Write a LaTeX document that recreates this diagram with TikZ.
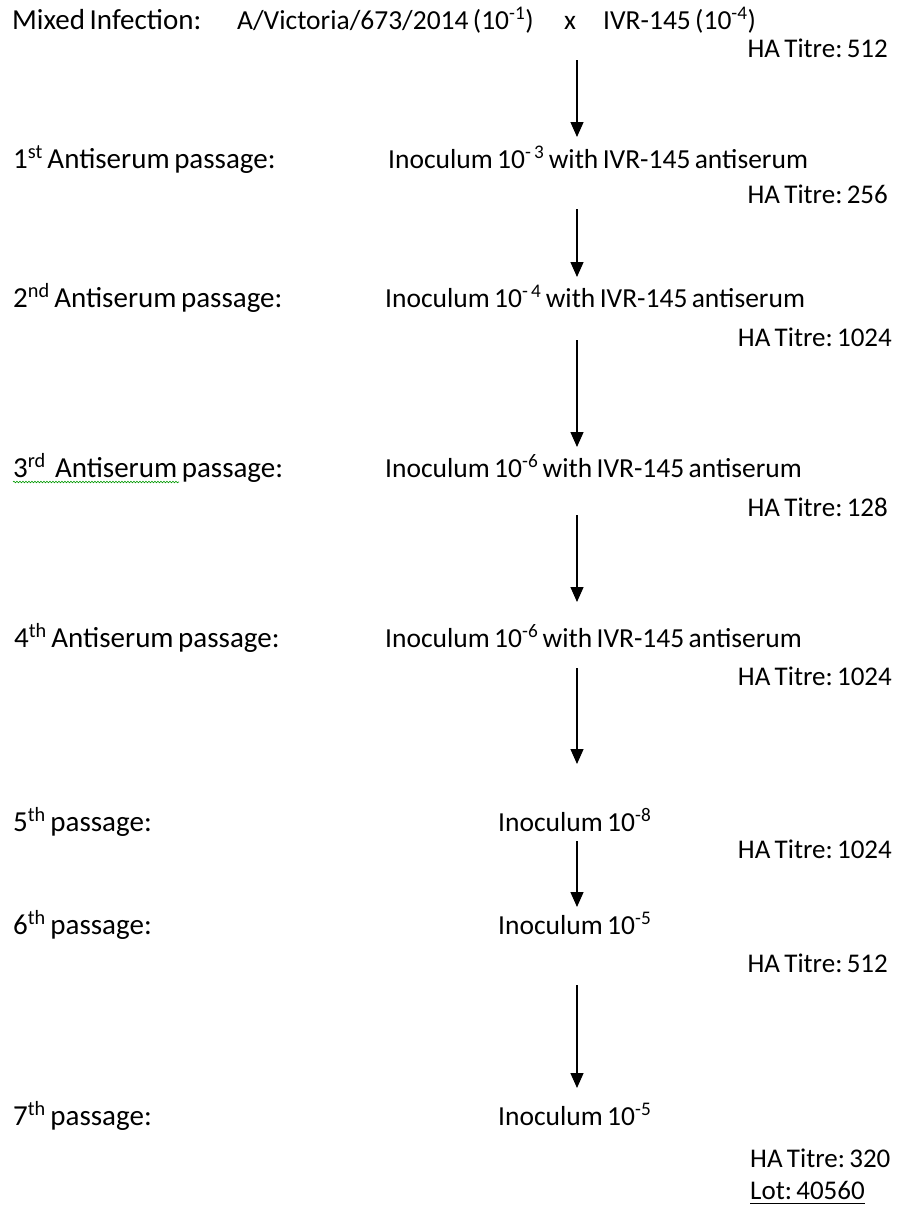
\documentclass[tikz,border=0pt]{standalone}
\usepackage{fontspec}
\setmainfont{Carlito}[WordSpace=0.7]
\usetikzlibrary{arrows.meta, decorations.pathmorphing}
\tikzset{
    every node/.style={inner sep=0pt},
    stage/.style={anchor=base west, font=\fontsize{29}{34}\selectfont},
    inoc/.style={anchor=base west, font=\fontsize{27.5}{32}\selectfont},
    titre/.style={anchor=base east, font=\fontsize{27}{32}\selectfont},
    flow/.style={-{Triangle[length=15pt,width=13pt]}, line width=1.3pt},
    spell/.style={green!60!black, line width=0.6pt, decorate,
        decoration={snake, segment length=3pt, amplitude=0.8pt}}
}
\newcommand{\sups}[1]{\textsuperscript{#1}}
\frenchspacing

\begin{document}
\begin{tikzpicture}[x=1pt, y=-1pt]
    \useasboundingbox (0,0) rectangle (916,1205);

    % mixed infection
    \node[stage] (mix)    at (12,29)  {Mixed Infection:};
    \node[inoc]  (strain) at (237,29) {A/Victoria/673/2014 (10\sups{-1})};
    \node[inoc, anchor=base] (cross) at (570,29) {x};
    \node[inoc]  (ivr)    at (603,29) {IVR-145 (10\sups{-4})};
    \node[titre] (t0)     at (888,57) {HA Titre: 512};

    % antiserum passages
    \node[stage] (p1) at (13,168) {1\sups{st} Antiserum passage:};
    \node[inoc]  (i1) at (388,168) {Inoculum 10\sups{-\,3} with IVR-145 antiserum};
    \node[titre] (t1) at (888,203) {HA Titre: 256};

    \node[stage] (p2) at (13,307) {2\sups{nd} Antiserum passage:};
    \node[inoc]  (i2) at (385,307) {Inoculum 10\sups{-\,4} with IVR-145 antiserum};
    \node[titre] (t2) at (892,346) {HA Titre: 1024};

    \node[stage] (p3) at (13,477) {3\sups{rd}\ \ Antiserum passage:};
    \node[inoc]  (i3) at (385,477) {Inoculum 10\sups{-6} with IVR-145 antiserum};
    \node[titre] (t3) at (888,516) {HA Titre: 128};
    \draw[spell] (p3.base west) ++(0,5) -- ++(166,0);

    \node[stage] (p4) at (14,647) {4\sups{th} Antiserum passage:};
    \node[inoc]  (i4) at (385,647) {Inoculum 10\sups{-6} with IVR-145 antiserum};
    \node[titre] (t4) at (892,685) {HA Titre: 1024};

    % plain passages
    \node[stage] (p5) at (13,831) {5\sups{th} passage:};
    \node[inoc]  (i5) at (498,831) {Inoculum 10\sups{-8}};
    \node[titre] (t5) at (892,858) {HA Titre: 1024};

    \node[stage] (p6) at (13,934) {6\sups{th} passage:};
    \node[inoc]  (i6) at (498,934) {Inoculum 10\sups{-5}};
    \node[titre] (t6) at (888,972) {HA Titre: 512};

    \node[stage] (p7) at (13,1125) {7\sups{th} passage:};
    \node[inoc]  (i7) at (498,1125) {Inoculum 10\sups{-5}};
    \node[titre, anchor=base west] (t7) at (750,1167) {HA Titre: 320};
    \node[titre, anchor=base west] (lot) at (750,1199) {Lot: 40560};
    \draw[line width=0.8pt] (lot.base west) ++(0,4) -- (lot.base east |- {0,1203});

    % arrows
    \foreach \n/\ys/\ye in {1/60/137, 2/209/277, 3/340/447, 4/515/602,
                            5/668/764, 6/841/907, 7/985/1088} {
        \coordinate (a\n) at (577,\ys);
        \coordinate (b\n) at (577,\ye);
        \draw[flow] (a\n) -- (b\n);
    }
\end{tikzpicture}
\end{document}
